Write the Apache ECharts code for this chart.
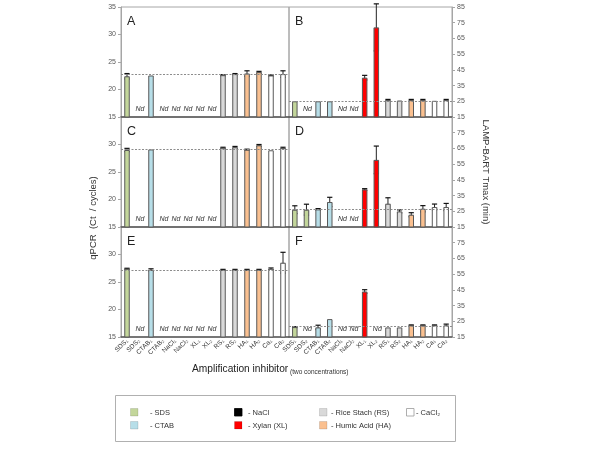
<!DOCTYPE html>
<html><head><meta charset="utf-8">
<script src="https://cdn.jsdelivr.net/npm/echarts@6/dist/echarts.min.js"></script>
<style>html,body{margin:0;padding:0;background:#fff}#c{width:600px;height:450px}</style>
</head><body><div id="c"></div>
<script>
// ---------- data ----------
const categories = ['SDS\u2081','SDS\u2082','CTAB\u2081','CTAB\u2082','NaCl\u2081','NaCl\u2082','XL\u2081','XL\u2082','RS\u2081','RS\u2082','HA\u2081','HA\u2082','Ca\u2081','Ca\u2082'];
const groups = ['SDS','SDS','CTAB','CTAB','NaCl','NaCl','XL','XL','RS','RS','HA','HA','Ca','Ca'];
const groupColors = {SDS:'#c3d69b', CTAB:'#b7dee8', NaCl:'#000000', XL:'#ff0000', RS:'#d9d9d9', HA:'#fac090', Ca:'#ffffff'};

const qpcrRange = [15, 35, 5];
const lampRange = [15, 85, 10];

// null = Nd (not detected)
const valuesA = [22.4, null, 22.55, null, null, null, null, null, 22.6, 22.8, 22.9, 23.15, 22.55, 22.8];
const errorsA = [0.5, 0, 0, 0, 0, 0, 0, 0, 0.1, 0.1, 0.5, 0.15, 0.1, 0.6];
const refA = 22.7;

const valuesB = [25, null, 25, 25, null, null, 40, 72, 25.7, 25.5, 25.7, 25.7, 25.3, 25.7];
const errorsB = [0, 0, 0, 0, 0, 0, 1.5, 15, 0.5, 0, 0.5, 0.5, 0, 0.5];
const refB = 25.2;

const valuesC = [29.0, null, 29.1, null, null, null, null, null, 29.4, 29.5, 29.05, 29.85, 28.95, 29.35];
const errorsC = [0.3, 0, 0, 0, 0, 0, 0, 0, 0.1, 0.15, 0.1, 0.15, 0, 0.15];
const refC = 29.2;

const valuesD = [26, 26, 26.2, 30.9, null, null, 38.9, 57.7, 29.8, 24.9, 22.8, 26.6, 27.7, 27.7];
const errorsD = [2.5, 3.5, 0.5, 3, 0, 0, 0.5, 8.8, 3.8, 1, 1.3, 2, 1.9, 2.3];
const refD = 26.6;

const valuesE = [27.4, null, 27.2, null, null, null, null, null, 27.2, 27.2, 27.2, 27.2, 27.4, 28.5];
const errorsE = [0.1, 0, 0.2, 0, 0, 0, 0, 0, 0.1, 0.1, 0.1, 0.1, 0.15, 1.9];
const refE = 27.2;

const valuesF = [21.3, null, 21.1, 26.4, null, null, 43.9, null, 21.1, 21.1, 22.4, 22.4, 22.4, 22.4];
const errorsF = [0.3, 0, 1.4, 0, 0, 0, 1.2, 0, 0, 0, 0.3, 0.3, 0.3, 0.8];
const refF = 21.75;

const panelLetters = ['A','B','C','D','E','F'];
const legendItems = [
  ['SDS','- SDS'], ['CTAB','- CTAB'], ['NaCl','- NaCl'], ['XL','- Xylan (XL)'],
  ['RS','- Rice Stach (RS)'], ['HA','- Humic Acid (HA)'], ['Ca','- CaCl\u2082']
];

// ---------- layout ----------
const FONT = 'Liberation Sans, Arial, sans-serif';
const panels = [
  {v: valuesA, e: errorsA, r: refA, rng: qpcrRange},
  {v: valuesB, e: errorsB, r: refB, rng: lampRange},
  {v: valuesC, e: errorsC, r: refC, rng: qpcrRange},
  {v: valuesD, e: errorsD, r: refD, rng: lampRange},
  {v: valuesE, e: errorsE, r: refE, rng: qpcrRange},
  {v: valuesF, e: errorsF, r: refF, rng: lampRange}
];
const colX = [[121, 168], [289, 163]];
const rowY = [7, 117, 227];
const H = 110;
const BW = 5.5;

const grid = [], xAxis = [], yAxis = [], series = [], graphic = [];
panels.forEach((p, i) => {
  const col = i % 2, row = Math.floor(i / 2);
  grid.push({left: colX[col][0], top: rowY[row], width: colX[col][1], height: H,
    show: true, borderColor: '#a6a6a6', borderWidth: 1});
  xAxis.push({type: 'category', gridIndex: i, data: categories,
    axisLine: {lineStyle: {color: '#595959', width: 1.5}},
    axisTick: {show: false},
    axisLabel: {show: row === 2, rotate: 45, fontSize: 6.5, color: '#333', margin: 3, interval: 0, fontFamily: FONT}});
  yAxis.push({type: 'value', gridIndex: i, min: p.rng[0], max: p.rng[1], interval: p.rng[2],
    position: col === 0 ? 'left' : 'right',
    axisLine: {show: true, lineStyle: {color: '#a6a6a6'}},
    axisTick: {show: true, length: 3, lineStyle: {color: '#a6a6a6'}},
    splitLine: {show: false},
    axisLabel: {fontSize: 7, color: '#595959', margin: col === 0 ? 5 : 5, showMaxLabel: row === 0, fontFamily: FONT}});

  series.push({type: 'bar', xAxisIndex: i, yAxisIndex: i, barWidth: BW, silent: true,
    data: p.v.map((v, k) => v == null ? '-' : {value: v, itemStyle: {color: groupColors[groups[k]]}}),
    itemStyle: {borderColor: '#595959', borderWidth: 1},
    markLine: {silent: true, symbol: 'none', label: {show: false},
      lineStyle: {color: '#8c8c8c', type: [2, 1.5], width: 1},
      data: [{yAxis: p.r}]}
  });
  // error bars
  series.push({type: 'custom', xAxisIndex: i, yAxisIndex: i, silent: true,
    data: p.v.map((v, k) => [k, v == null ? 0 : v, v == null ? 0 : p.e[k]]).filter(d => d[2] > 0),
    renderItem: (params, api) => {
      const k = api.value(0), v = api.value(1), e = api.value(2);
      const c = api.coord([k, v]), lo = api.coord([k, v - e]), hi = api.coord([k, v + e]);
      const hw = 2.6;
      return {type: 'group', children: [
        {type: 'rect', shape: {x: c[0] - BW / 2, y: c[1], width: BW, height: lo[1] - c[1]},
          style: {fill: 'rgba(0,0,0,0.22)'}},
        {type: 'line', shape: {x1: c[0], y1: lo[1], x2: c[0], y2: hi[1]}, style: {stroke: '#222', lineWidth: 1}},
        {type: 'line', shape: {x1: c[0] - hw, y1: hi[1], x2: c[0] + hw, y2: hi[1]}, style: {stroke: '#111', lineWidth: 1.2}},
        {type: 'line', shape: {x1: c[0] - hw, y1: lo[1], x2: c[0] + hw, y2: lo[1]}, style: {stroke: '#111', lineWidth: 1.2}}
      ]};
    }
  });
  // Nd labels
  series.push({type: 'custom', xAxisIndex: i, yAxisIndex: i, silent: true,
    data: p.v.map((v, k) => [k, v]).filter(d => d[1] == null).map(d => [d[0], p.rng[0]]),
    renderItem: (params, api) => {
      const c = api.coord([api.value(0), api.value(1)]);
      return {type: 'text', style: {x: c[0] + 1, y: c[1] - 8, text: 'Nd', fontSize: 7, fontStyle: 'italic',
        fill: '#333', align: 'center', verticalAlign: 'middle', fontFamily: FONT}};
    }
  });
  graphic.push({type: 'text', left: colX[col][0] + 6, top: rowY[row] + 8,
    style: {text: panelLetters[i], fontSize: 12.5, fill: '#222', fontFamily: FONT}});
});

graphic.push({type: 'text', x: 93, y: 218, rotation: Math.PI / 2,
  style: {text: 'qPCR  (Ct  / cycles)', fontSize: 9.5, fill: '#333', align: 'center', verticalAlign: 'middle', fontFamily: FONT}});
graphic.push({type: 'text', x: 486, y: 172, rotation: -Math.PI / 2,
  style: {text: 'LAMP-BART Tmax (min)', fontSize: 9.5, fill: '#333', align: 'center', verticalAlign: 'middle', fontFamily: FONT}});
graphic.push({type: 'text', x: 192, y: 369,
  style: {text: 'Amplification inhibitor', fontSize: 10.2, fill: '#222', verticalAlign: 'middle', fontFamily: FONT}});
graphic.push({type: 'text', x: 290, y: 372,
  style: {text: '(two concentrations)', fontSize: 6.5, fill: '#333', verticalAlign: 'middle', fontFamily: FONT}});

// legend box
graphic.push({type: 'rect', shape: {x: 115.5, y: 395.5, width: 340, height: 46},
  style: {fill: 'none', stroke: '#b0b0b0', lineWidth: 1}});
const legPos = {SDS: [130, 412], CTAB: [130, 425], NaCl: [234, 412], XL: [234, 425], RS: [319, 412], HA: [319, 425], Ca: [406, 412]};
const legTextDx = {SDS: 20, CTAB: 20, NaCl: 14, XL: 14, RS: 12, HA: 12, Ca: 10};
legendItems.forEach(([g, label]) => {
  const [x, y] = legPos[g];
  graphic.push({type: 'rect', shape: {x: x + 0.5, y: y - 3.5, width: 7.5, height: 7.5},
    style: {fill: groupColors[g], stroke: g === 'Ca' ? '#999' : (g === 'NaCl' ? '#000' : 'rgba(0,0,0,0.15)'), lineWidth: 0.8}});
  graphic.push({type: 'text', x: x + legTextDx[g], y: y + 0.5,
    style: {text: label, fontSize: 7.5, fill: '#333', verticalAlign: 'middle', fontFamily: FONT}});
});

const chart = echarts.init(document.getElementById('c'), null, {renderer: 'canvas'});
chart.setOption({animation: false, backgroundColor: '#fff', grid, xAxis, yAxis, series, graphic});
</script></body></html>
